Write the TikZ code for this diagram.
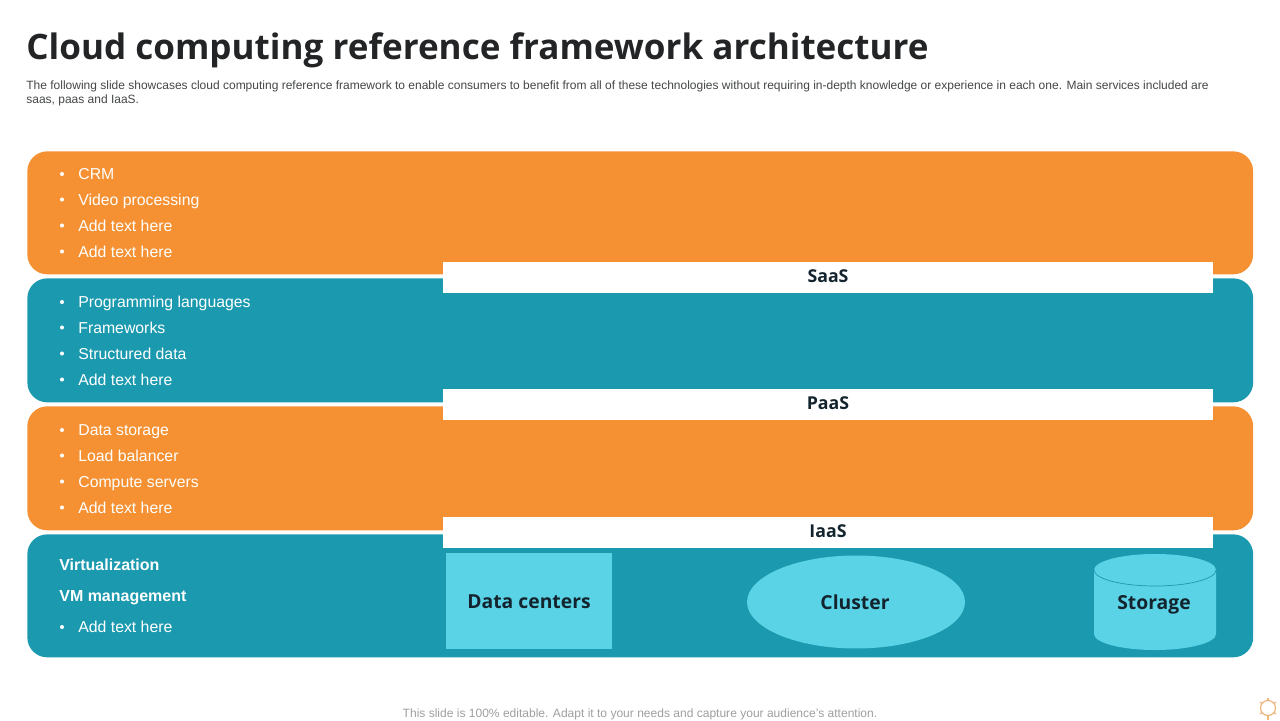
\documentclass[tikz,border=0pt]{standalone}
\usepackage{xcolor}
\usepackage{fontspec}
\usetikzlibrary{shapes.geometric}
\setmainfont{Liberation Sans}
\newfontfamily\headfont{Open Sans}
\definecolor{panelorange}{HTML}{F59133}
\definecolor{panelteal}{HTML}{1B99AF}
\definecolor{lightcyan}{HTML}{5AD3E6}
\definecolor{inkdark}{HTML}{222426}
\definecolor{inknavy}{HTML}{14242E}
\definecolor{sunline}{HTML}{EDB77E}
\tikzset{
  panel/.style={rounded corners=11.3pt, minimum width=24.52cm, minimum height=#1, inner sep=0pt, anchor=north west},
  bar/.style={fill=white, minimum width=15.4cm, minimum height=0.62cm, inner sep=0pt, font=\headfont\fontsize{10.1pt}{12pt}\selectfont\bfseries, text=inknavy},
  item/.style={anchor=west, inner sep=0pt, text=white, text height=7pt, text depth=2pt, font=\fontsize{9pt}{11pt}\selectfont},
  dot/.style={circle, fill=white, inner sep=0pt, minimum size=2.3pt},
  boxlabel/.style={font=\headfont\fontsize{11pt}{14pt}\selectfont\bfseries, text=inknavy, inner sep=0pt},
  sun/.style={sunline, line width=0.7pt},
}
\begin{document}
\begin{tikzpicture}[x=0.02cm, y=-0.02cm]
  \useasboundingbox (0,0) rectangle (1280,720);

  % heading
  \node[anchor=west, inner sep=0pt, text=inkdark, font=\headfont\fontsize{19.95pt}{25pt}\selectfont\bfseries] (title) at (26,50) {Cloud computing reference framework architecture};
  \node[anchor=north west, inner sep=0pt, text=inkdark!85, align=left, font=\fontsize{6.83pt}{8pt}\selectfont] (intro) at (26,80) {The following slide showcases cloud computing reference framework to enable consumers to benefit from all of these technologies without requiring in-depth knowledge or experience in each one. Main services included are\\saas, paas and IaaS.};

  % panels
  \node[panel=2.46cm, fill=panelorange] (saaspanel) at (27,151) {};
  \node[panel=2.48cm, fill=panelteal] (paaspanel) at (27,278) {};
  \node[panel=2.48cm, fill=panelorange] (iaaspanel) at (27,406) {};
  \node[panel=2.46cm, fill=panelteal] (basepanel) at (27,534) {};

  % white bars
  \node[bar] (saas) at (828,277) {};
  \node[bar] (paas) at (828,404.5) {};
  \node[bar] (iaas) at (828,532.5) {};
  \node[bar, fill=none] at (828,276) {SaaS};
  \node[bar, fill=none] at (828,403.5) {PaaS};
  \node[bar, fill=none] at (828,531.5) {IaaS};

  % first panel
  \node[dot] at (62,174) {};
  \node[dot] at (62,199.5) {};
  \node[dot] at (62,225.5) {};
  \node[dot] at (62,251.5) {};
  \node[item] (crm) at (78,175.5) {CRM};
  \node[item] (video) at (78,201) {Video processing};
  \node[item] (adda) at (78,227) {Add text here};
  \node[item] (addb) at (78,253) {Add text here};

  % second panel
  \node[dot] at (62,302) {};
  \node[dot] at (62,327.5) {};
  \node[dot] at (62,353.5) {};
  \node[dot] at (62,379.5) {};
  \node[item] (prog) at (78,303.5) {Programming languages};
  \node[item] (frame) at (78,329) {Frameworks};
  \node[item] (struct) at (78,355) {Structured data};
  \node[item] (addc) at (78,381) {Add text here};

  % third panel
  \node[dot] at (62,430) {};
  \node[dot] at (62,455.5) {};
  \node[dot] at (62,481.5) {};
  \node[dot] at (62,507.5) {};
  \node[item] (store) at (78,431.5) {Data storage};
  \node[item] (load) at (78,457) {Load balancer};
  \node[item] (compute) at (78,483) {Compute servers};
  \node[item] (addd) at (78,509) {Add text here};

  % fourth panel
  \node[item, font=\fontsize{9.1pt}{11pt}\selectfont\bfseries] (virt) at (59,566.5) {Virtualization};
  \node[item, font=\fontsize{9.1pt}{11pt}\selectfont\bfseries] (vmm) at (59,597.5) {VM management};
  \node[dot] at (62,627) {};
  \node[item] (adde) at (78,628.5) {Add text here};

  % shapes of the fourth panel
  \node[fill=lightcyan, minimum width=3.32cm, minimum height=1.92cm, inner sep=0pt] (centers) at (529,601) {};
  \node[boxlabel] at (529,602) {Data centers};
  \node[ellipse, fill=lightcyan, minimum width=4.36cm, minimum height=1.86cm, inner sep=0pt] (cluster) at (856,602) {};
  \node[boxlabel] at (855,602) {Cluster};
  \fill[lightcyan] (1094,570) -- (1094,634) arc[start angle=180, end angle=0, x radius=61, y radius=16] -- (1216,570) arc[start angle=0, end angle=-180, x radius=61, y radius=16] -- cycle;
  \draw[panelteal, line width=0.4pt] (1094,570) arc[start angle=180, end angle=0, x radius=61, y radius=16];
  \node[boxlabel] (storage) at (1154,605) {Storage};

  % footer
  \node[inner sep=0pt, text=black!38, font=\fontsize{6.85pt}{8pt}\selectfont] (note) at (640,714) {This slide is 100\% editable. Adapt it to your needs and capture your audience's attention.};
  \draw[sun] (1268,708) circle[radius=7.5];
  \draw[sun] (1268,698) -- (1268,700.5);
  \draw[sun] (1260,702) -- (1262,703.5);
  \draw[sun] (1276,702) -- (1274,703.5);
  \draw[sun] (1260,714) -- (1262,712.5);
  \draw[sun] (1276,714) -- (1274,712.5);
  \draw[sun] (1268,715.5) -- (1268,720);
\end{tikzpicture}
\end{document}
